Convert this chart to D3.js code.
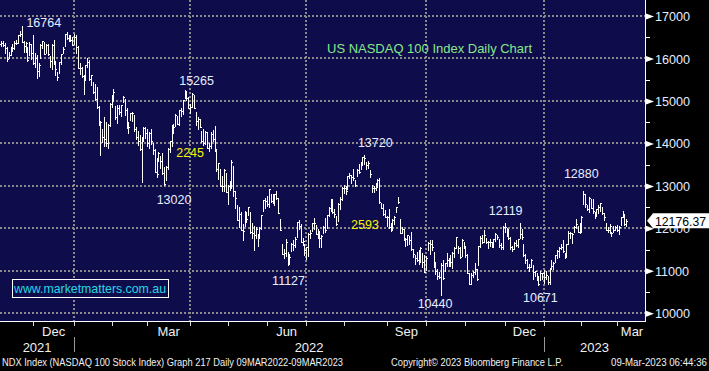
<!DOCTYPE html>
<html><head><meta charset="utf-8">
<script src="https://cdn.jsdelivr.net/npm/d3@7"></script>
<style>
html,body{margin:0;padding:0;background:#000;}
svg{display:block;}
text{font-family:"Liberation Sans",Arial,sans-serif;}
</style></head><body>
<svg id="c" width="709" height="371"></svg>
<script>
// ---------------- DATA ----------------
const startDate = "2021-11-04";
const endDate = "2023-03-08";
const holidays = ["2021-11-25","2021-12-24","2022-01-17","2022-02-21","2022-04-15","2022-05-30",
  "2022-06-20","2022-07-04","2022-09-05","2022-11-24","2022-12-26","2023-01-02","2023-01-16","2023-02-20"];

const highs = [
 16380,16420,16420,16375,16260,16150,16265,16330,16420,16430,16560,16640,16764,16410,16380,16270,16390,16350,
 16550,16140,16080,15900,16330,16420,16390,16340,16330,16060,16330,16440,15950,15680,15910,16110,16280,16570,16620,16560,16560,16500,
 16580,16550,16290,15900,15810,15610,15840,16010,15960,15620,15450,15400,15330,14890,14520,14330,14620,14500,14450,14940,
 15130,15270,14880,14900,14900,14900,15120,15040,14840,14500,14720,14750,14660,14380,14290,14200,14150,14380,14380,
 14330,14280,14350,14020,13880,13650,13800,13700,13780,13440,13470,13890,14060,14440,14460,14700,14640,14790,14830,15030,15265,15230,15100,
 14920,15180,15140,14730,14620,14580,14300,14350,14290,14280,14000,14260,14320,14400,13870,13540,13400,13230,13400,13300,
 13020,13120,13600,13460,12870,12560,12500,12380,12110,12410,12370,12510,12390,12120,12060,12040,11860,12040,12320,12660,12710,
 12770,12930,12810,12820,12820,12890,12710,12230,11630,11510,11740,11450,11400,11660,11720,11790,12150,12190,12110,11770,11640,
 11560,11880,11960,12130,12240,12080,11990,11930,11850,12050,12250,12320,12500,12680,12690,12450,12280,12600,12730,12980,
 13020,13000,13240,13300,13260,13390,13150,13390,13510,13570,13690,13720,13560,13590,13380,13020,12990,13060,13160,13190,12600,12580,12430,
 12290,12450,12130,12220,12290,12510,12740,12230,12040,11990,11770,11840,11830,11920,11520,11380,11450,11480,11570,11420,11370,
 11350,11670,11720,11720,11450,11200,11040,10970,11180,11250,11180,11420,11300,11370,11440,11570,11790,11590,11560,11750,11670,
 11570,11400,10960,10940,11000,11180,11050,11590,11830,11850,11960,11780,11710,11740,11680,11750,11880,11840,11760,11660,12050,
 12120,12010,11960,11790,11580,11680,11720,11750,12119,11990,11630,11390,11280,11160,11290,11140,11000,10960,10890,10990,10950,
 11020,10990,10870,11060,11250,11200,11380,11480,11560,11640,11720,11430,11640,11930,11910,11890,12050,12210,12060,12120,
 12300,12880,12800,12540,12730,12690,12700,12380,12460,12540,12600,12510,12370,12130,12040,12110,11920,12060,12050,
 12070,12050,12270,12420,12330,12230
];
const lows = [
 16150,16290,16290,16140,15930,16010,16080,16170,16230,16340,16360,16540,16380,16150,16150,15940,16080,15990,
 15880,15790,15550,15580,16010,16240,16100,16120,16080,15810,15760,15880,15620,15490,15650,15860,16140,16300,16470,16420,16410,16310,
 16330,16140,15770,15630,15560,15170,15500,15790,15500,15370,15180,15030,14830,14430,13720,14030,13950,13930,13900,14400,
 14860,15000,14580,14480,14700,14640,14980,14670,14370,14250,14540,14520,14300,14100,13960,13840,13080,14060,14120,
 13940,13900,13990,13760,13330,13200,13590,13420,13290,13020,13140,13390,13800,13930,14250,14400,14450,14430,14640,14700,15060,15020,14830,
 14720,14860,14830,14440,14340,14380,14040,13960,13990,13890,13830,13900,14060,13820,13360,13170,12990,12870,12890,12850,
 12580,12900,12950,12770,12490,12190,12030,11950,11720,12060,12140,12320,11900,11770,11480,11770,11580,11780,11990,12410,12480,
 12530,12500,12610,12590,12550,12680,12370,11960,11390,11300,11350,11127,11170,11460,11500,11570,11800,11980,11680,11600,11370,
 11290,11350,11770,11940,11990,11870,11770,11560,11570,11900,11920,12020,12300,12420,12350,12270,12070,12180,12450,12660,
 12840,12820,12930,13180,13060,13130,13000,13240,13310,13400,13500,13510,13390,13420,13200,12860,12860,12900,12970,12600,12470,12310,12260,
 12060,12000,11930,11950,12100,12380,12600,11900,11880,11720,11580,11600,11620,11500,11320,11150,11240,11170,11210,11100,10970,
 11020,11480,11390,11500,11100,10930,10800,10820,10440,10800,10990,11120,11120,11120,11070,11330,11530,11430,11300,11340,11540,
 11320,10940,10690,10690,10860,10920,10790,11140,11560,11660,11690,11650,11530,11580,11560,11580,11710,11760,11570,11520,11520,
 11920,11830,11740,11520,11460,11520,11580,11560,11770,11740,11350,11180,11060,10990,11100,10800,10880,10780,10671,10780,10810,
 10710,10800,10700,10700,11050,11040,11200,11300,11330,11510,11450,11300,11340,11620,11780,11650,11910,12010,11910,11900,
 11920,12580,12510,12440,12380,12490,12370,12240,12290,12350,12420,12340,12200,11950,11910,11900,11830,11920,11950,
 11930,11860,12090,12270,12070,12060
];
const closes = [
 16345,16363,16327,16258,15976,16083,16258,16248,16370,16362,16541,16573,16388,16303,16367,15962,16352,16135,
 15900,16006,15712,15843,16320,16403,16108,16321,16100,15951,16318,15922,15745,15565,15906,16098,16232,16567,16488,16495,16431,16320,
 16501,16280,15772,15765,15587,15604,15838,15906,15524,15611,15210,15037,14855,14439,14509,14148,14097,14000,14440,14930,
 15100,15220,14620,14826,14734,14894,15090,14780,14400,14380,14720,14720,14340,14140,14050,13870,14120,14360,14240,
 14010,14240,14060,13840,13320,13290,13770,13580,13300,13050,13450,13880,14050,14420,14380,14660,14460,14790,14770,15020,15240,15080,14840,
 14860,15170,14830,14520,14570,14390,14050,14000,14270,13900,13930,14230,14100,13860,13390,13530,13000,13000,13380,12850,
 13000,13050,13570,12870,12720,12200,12340,11950,11930,12380,12230,12510,11910,11880,11840,11980,11850,12010,12320,12660,12640,
 12580,12920,12640,12680,12800,12710,12370,11960,11400,11420,11670,11200,11320,11630,11610,11760,12140,12050,11680,11700,11500,
 11550,11860,11900,12130,12130,11870,11790,11770,11810,12040,11950,12320,12490,12660,12380,12330,12100,12580,12700,12950,
 12940,12890,13240,13260,13200,13180,13010,13380,13330,13560,13680,13660,13490,13540,13270,12940,12940,13000,13150,12610,12480,12340,12270,
 12260,12030,11960,12200,12270,12500,12630,11900,11980,11750,11760,11840,11730,11510,11390,11310,11260,11270,11540,11200,10980,
 11300,11660,11630,11550,11120,11000,10880,10860,11130,10820,11180,11250,11230,11200,11430,11540,11790,11530,11330,11730,11590,
 11370,10950,10700,10900,10980,11050,10800,11580,11780,11690,11840,11680,11670,11680,11570,11740,11860,11790,11610,11560,12030,
 12040,11990,11780,11560,11510,11650,11600,11740,11870,11790,11370,11260,11090,11100,11260,10980,10990,10820,10680,10960,10940,
 10860,10910,10740,11040,11110,11180,11380,11460,11540,11560,11460,11330,11630,11900,11880,11860,12040,12110,11920,12100,
 12270,12800,12570,12460,12710,12490,12400,12300,12450,12510,12590,12360,12260,11950,11960,12050,11880,11960,12040,
 11950,12040,12270,12300,12110,12176.37
];

const yTicks = [10000,11000,12000,13000,14000,15000,16000,17000];
const yMinor = [10500,11500,12500,13500,14500,15500,16500];
const lastPrice = 12176.37;
const quarterMonths = ["Mar","Jun","Sep","Dec"];
const peakLabels = [
  {text:"16764", date:"2021-11-22", value:16764},
  {text:"15265", date:"2022-03-29", value:15265},
  {text:"13020", date:"2022-03-14", value:13020},
  {text:"11127", date:"2022-06-16", value:11127},
  {text:"13720", date:"2022-08-16", value:13720},
  {text:"10440", date:"2022-10-13", value:10440},
  {text:"12119", date:"2022-12-13", value:12119},
  {text:"10671", date:"2022-12-28", value:10671},
  {text:"12880", date:"2023-02-02", value:12880}
];
const moveLabels = [
  {text:"2245", from:15265, to:13020, date:"2022-03-29"},
  {text:"2593", from:13720, to:11127, date:"2022-08-16"}
];
const title = "US NASDAQ 100 Index Daily Chart";
const website = "www.marketmatters.com.au";
const footerLeft = "NDX Index (NASDAQ 100 Stock Index) Graph 217  Daily 09MAR2022-09MAR2023";
const footerMid = "Copyright\u00A9 2023 Bloomberg Finance L.P.";
const footerRight = "09-Mar-2023 06:44:36";

// ---------------- LAYOUT ----------------
const W = 709, H = 371, PR = 645, PB = 321;
const bg = "#0f0c4b";
const svg = d3.select("#c");
const parse = d3.utcParse("%Y-%m-%d"), fmt = d3.utcFormat("%Y-%m-%d");
const hol = new Set(holidays);
const dates = d3.utcDays(parse(startDate), d3.utcDay.offset(parse(endDate), 1))
  .filter(d => d.getUTCDay() % 6 !== 0 && !hol.has(fmt(d)));
const idxOf = s => dates.findIndex(d => fmt(d) === s);

const x = d3.scaleLinear().domain([idxOf("2021-12-01"), idxOf("2023-03-01")]).range([33, 617]);
const y = d3.scaleLinear().domain([10000, 17000]).range([313.3, 16]);

svg.append("rect").attr("width", W).attr("height", H).attr("fill", "#000");
svg.append("rect").attr("width", PR).attr("height", PB).attr("fill", bg);

// month starts
const monthStarts = [];
dates.forEach((d, i) => { if (i === 0 || d.getUTCMonth() !== dates[i-1].getUTCMonth()) monthStarts.push(i); });
const mName = d3.utcFormat("%b");

// grid
const grid = svg.append("g").attr("stroke", "#8a8a8a").attr("stroke-width", 2).attr("stroke-dasharray", "2,2");
grid.selectAll("line.h").data(yTicks).join("line").attr("class","h")
  .attr("x1", 0).attr("x2", PR).attr("y1", d => Math.round(y(d))).attr("y2", d => Math.round(y(d)));
const qStarts = monthStarts.filter(i => i > 0 && [0,3,6,9].includes(dates[i].getUTCMonth()));
grid.selectAll("line.v").data(qStarts).join("line").attr("class","v")
  .attr("x1", i => Math.round(x(i))).attr("x2", i => Math.round(x(i))).attr("y1", 0).attr("y2", PB);

// bars (high-low with close tick)
const bars = svg.append("g").attr("stroke", "#fff").attr("stroke-width", 1).attr("shape-rendering", "crispEdges");
const idx = d3.range(dates.length);
bars.selectAll("line.b").data(idx).join("line").attr("class","b")
  .attr("x1", i => Math.round(x(i)) + 0.5).attr("x2", i => Math.round(x(i)) + 0.5)
  .attr("y1", i => Math.round(y(highs[i]))).attr("y2", i => Math.round(y(lows[i])) + 1);
bars.selectAll("line.c").data(idx).join("line").attr("class","c")
  .attr("x1", i => Math.round(x(i)) + 1).attr("x2", i => Math.round(x(i)) + 2)
  .attr("y1", i => Math.round(y(closes[i])) + 0.5).attr("y2", i => Math.round(y(closes[i])) + 0.5);

// axes lines
svg.append("line").attr("x1", PR + 0.5).attr("x2", PR + 0.5).attr("y1", 0).attr("y2", PB + 1).attr("stroke", "#fff");
svg.append("line").attr("x1", 0).attr("x2", PR + 1).attr("y1", PB + 0.5).attr("y2", PB + 0.5).attr("stroke", "#fff");

// right axis
const yAxis = d3.axisRight(y).tickValues(yTicks).tickSize(0).tickPadding(10).tickFormat(d3.format("d"));
const ya = svg.append("g").attr("transform", `translate(${PR},0)`).call(yAxis);
ya.select(".domain").remove();
ya.selectAll("text").attr("fill", "#e4ecff").attr("font-size", 12.6).attr("font-family", '"Liberation Sans",Arial,sans-serif').attr("dy", "0.36em");
ya.selectAll(".tick").append("path").attr("d", "M1,-3L9,0L1,3Z").attr("fill", "#fff");
svg.append("g").selectAll("line").data(yMinor).join("line")
  .attr("x1", PR).attr("x2", PR + 5).attr("y1", d => Math.round(y(d)) + 0.5).attr("y2", d => Math.round(y(d)) + 0.5)
  .attr("stroke", "#fff");

// bottom month ticks
svg.append("g").selectAll("line").data(monthStarts.filter(i => x(i) > 2)).join("line")
  .attr("x1", i => Math.round(x(i)) + 0.5).attr("x2", i => Math.round(x(i)) + 0.5)
  .attr("y1", PB).attr("y2", PB + 5).attr("stroke", "#ddd");

// month labels (quarter-end months)
const step = x(1) - x(0);
const mLabels = monthStarts.filter(i => quarterMonths.includes(mName(dates[i])));
svg.append("g").selectAll("text").data(mLabels).join("text")
  .attr("x", i => {
    const next = monthStarts.find(j => j > i);
    const end = next !== undefined ? x(next) : x(i) + 21 * step;
    return Math.min((x(i) + end) / 2, 632);
  })
  .attr("y", 336).attr("text-anchor", "middle").attr("fill", "#f0f0f0").attr("font-size", 13)
  .text(i => mName(dates[i]));

// year labels & separators
const yearStarts = monthStarts.filter(i => i > 0 && dates[i].getUTCMonth() === 0);
const yBounds = [0, ...yearStarts.map(i => x(i)), PR];
const years = [dates[0].getUTCFullYear(), ...yearStarts.map(i => dates[i].getUTCFullYear())];
svg.append("g").selectAll("text").data(years).join("text")
  .attr("x", (d, k) => (yBounds[k] + yBounds[k+1]) / 2).attr("y", 352)
  .attr("text-anchor", "middle").attr("fill", "#f0f0f0").attr("font-size", 13).text(d => d);
svg.append("g").selectAll("line").data(yearStarts).join("line")
  .attr("x1", i => Math.round(x(i)) + 0.5).attr("x2", i => Math.round(x(i)) + 0.5)
  .attr("y1", 337).attr("y2", 352).attr("stroke", "#999");

// title
svg.append("text").attr("x", 327).attr("y", 53).attr("fill", "#86e88a").attr("font-size", 13.5)
  .attr("textLength", 205).attr("lengthAdjust", "spacingAndGlyphs").text(title);

// peak / trough labels
const peakOffsets = {"16764":[22,1],"15265":[12,-5],"13020":[10,19],"11127":[1,20],"13720":[11,-8],
  "10440":[-6,13],"12119":[-14,-8],"10671":[2,17],"12880":[-2,-13]};
svg.append("g").selectAll("text").data(peakLabels).join("text")
  .attr("x", d => x(idxOf(d.date)) + peakOffsets[d.text][0])
  .attr("y", d => y(d.value) + peakOffsets[d.text][1])
  .attr("text-anchor", "middle").attr("fill", "#e6efff").attr("font-size", 12.5).text(d => d.text);

// move labels (size of the fall), placed just under the high that starts it
const moveOffsets = [[5.5, -28], [0.7, -36]];
svg.append("g").selectAll("text").data(moveLabels).join("text")
  .attr("x", (d, k) => x(idxOf(d.date)) + moveOffsets[k][0])
  .attr("y", (d, k) => y(d.to) + moveOffsets[k][1])
  .attr("text-anchor", "middle").attr("fill", "#f5f500").attr("font-size", 12.5).text(d => d.text);

// website box
svg.append("rect").attr("x", 12.5).attr("y", 279.5).attr("width", 156).attr("height", 18)
  .attr("fill", bg).attr("stroke", "#fff");
svg.append("text").attr("x", 14).attr("y", 293).attr("fill", "#22d8e6").attr("font-size", 13)
  .attr("textLength", 152).attr("lengthAdjust", "spacingAndGlyphs").text(website);

// last price flag
const ly = y(lastPrice);
svg.append("path").attr("d", `M${PR+2},${ly}L${PR+8},${ly-7.5}L${W},${ly-7.5}L${W},${ly+7.5}L${PR+8},${ly+7.5}Z`).attr("fill", "#fff");
svg.append("text").attr("x", 655).attr("y", ly + 5).attr("fill", "#000").attr("font-size", 13)
  .attr("textLength", 51).attr("lengthAdjust", "spacingAndGlyphs").text(d3.format(".2f")(lastPrice));

// footer
const ft = svg.append("g").attr("fill", "#f0f0f0").attr("font-size", 10);
ft.append("text").attr("x", 2).attr("y", 366).attr("textLength", 341).attr("lengthAdjust", "spacingAndGlyphs").text(footerLeft);
ft.append("text").attr("x", 391).attr("y", 366).attr("textLength", 172).attr("lengthAdjust", "spacingAndGlyphs").text(footerMid);
ft.append("text").attr("x", 611).attr("y", 366).attr("textLength", 96).attr("lengthAdjust", "spacingAndGlyphs").text(footerRight);
</script>
</body></html>
